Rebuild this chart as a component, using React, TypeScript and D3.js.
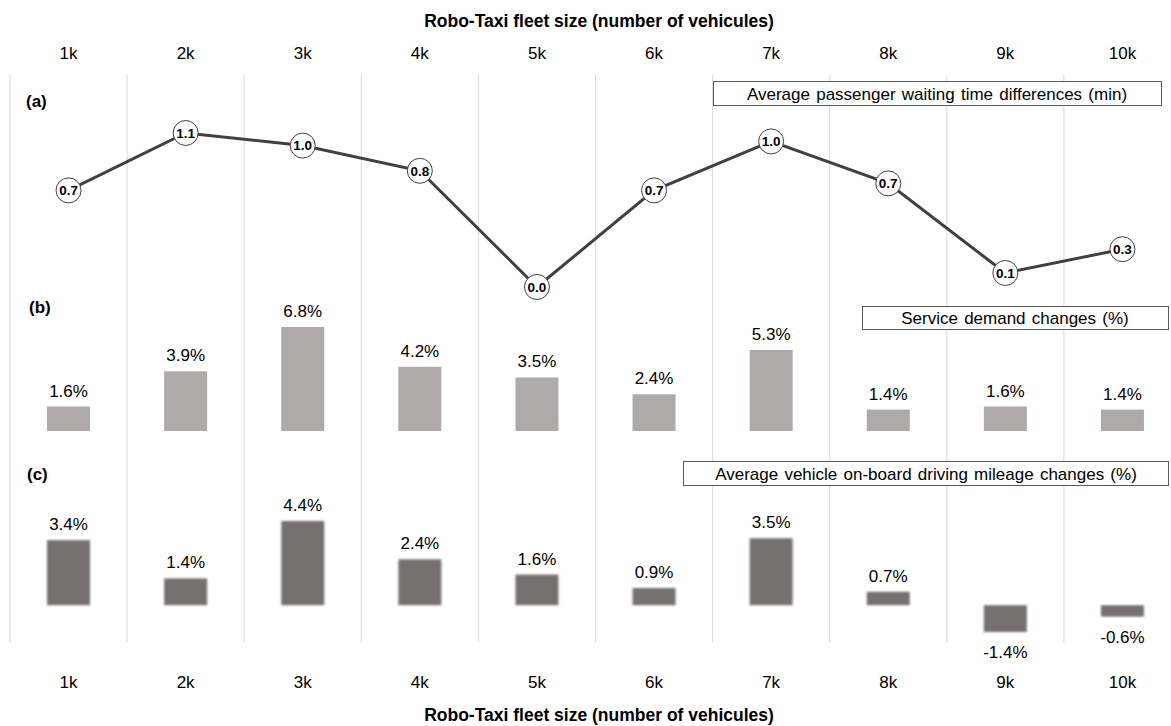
import React, { useEffect } from 'react';
import * as d3 from 'd3';

// fleet size categories (k vehicles)
const fleet = ['1k', '2k', '3k', '4k', '5k', '6k', '7k', '8k', '9k', '10k'];

// (a) average passenger waiting time differences (min)
const waitDiff = [0.69, 1.1, 1.01, 0.83, 0.0, 0.69, 1.04, 0.74, 0.1, 0.27];

// (b) service demand changes (%)
const demandChange = [1.6, 3.9, 6.8, 4.2, 3.5, 2.4, 5.3, 1.4, 1.6, 1.4];

// (c) average vehicle on-board driving mileage changes (%)
const mileageChange = [3.4, 1.4, 4.4, 2.4, 1.6, 0.9, 3.5, 0.7, -1.4, -0.6];

const W = 1171;
const H = 726;
const FONT = '"Liberation Sans", Arial, sans-serif';
const FS = 17;

const App: React.FC = () => {
  useEffect(() => {
    document.body.style.margin = '0';
  }, []);

  const x = d3.scaleBand<string>().domain(fleet).range([10, 1181]);
  const step = x.step();
  const cx = (c: string) => (x(c) as number) + step / 2;
  const barW = 43;

  const yA = d3.scaleLinear().domain([0, 1.1]).range([287, 133]);
  const yB = d3.scaleLinear().domain([0, 6.8]).range([431, 327]);
  const yC = d3.scaleLinear().domain([-1.4, 4.4]).range([632, 521]);

  const line = d3
    .line<number>()
    .x((_, i) => cx(fleet[i]))
    .y((d) => yA(d));

  return (
    <svg width={W} height={H} style={{ display: 'block', fontFamily: FONT }}>
      <defs>
        <filter id="soft" x="-10%" y="-10%" width="120%" height="120%">
          <feGaussianBlur stdDeviation="0.9" />
        </filter>
      </defs>
      <rect width={W} height={H} fill="#fff" />

      {/* vertical grid */}
      {fleet.map((c) => (
        <line key={c} x1={x(c)} x2={x(c)} y1={75} y2={642} stroke="#d9d9d9" strokeWidth={1} />
      ))}

      {/* axis titles and tick labels */}
      <text x={599} y={27} textAnchor="middle" fontSize={17.5} fontWeight="bold" fill="#000">
        Robo-Taxi fleet size (number of vehicules)
      </text>
      <text x={599} y={721} textAnchor="middle" fontSize={17.5} fontWeight="bold" fill="#000">
        Robo-Taxi fleet size (number of vehicules)
      </text>
      {fleet.map((c) => (
        <g key={'t' + c}>
          <text x={cx(c)} y={59} textAnchor="middle" fontSize={FS} fill="#000">{c}</text>
          <text x={cx(c)} y={688} textAnchor="middle" fontSize={FS} fill="#000">{c}</text>
        </g>
      ))}

      {/* panel labels */}
      <text x={26} y={107} fontSize={FS} fontWeight="bold">(a)</text>
      <text x={29} y={313} fontSize={FS} fontWeight="bold">(b)</text>
      <text x={27} y={480} fontSize={FS} fontWeight="bold">(c)</text>

      {/* legend boxes */}
      <rect x={713.5} y={81.5} width={448} height={24} fill="#fff" stroke="#595959" />
      <text x={937} y={99.5} textAnchor="middle" fontSize={FS} wordSpacing={1.5}>
        Average passenger waiting time differences (min)
      </text>
      <rect x={862.5} y={306.5} width={306} height={23} fill="#fff" stroke="#595959" />
      <text x={1015} y={324} textAnchor="middle" fontSize={FS} wordSpacing={1.5}>
        Service demand changes (%)
      </text>
      <rect x={683.5} y={461.5} width={485} height={24} fill="#fff" stroke="#595959" />
      <text x={926} y={479.5} textAnchor="middle" fontSize={FS} wordSpacing={1.5}>
        Average vehicle on-board driving mileage changes (%)
      </text>

      {/* (a) line */}
      <path d={line(waitDiff) ?? ''} fill="none" stroke="#404040" strokeWidth={3} />
      {waitDiff.map((v, i) => (
        <g key={'a' + i} transform={`translate(${cx(fleet[i])},${yA(v)})`}>
          <circle r={12.5} fill="#fff" stroke="#404040" strokeWidth={1} />
          <text y={4.8} textAnchor="middle" fontSize={13.5} fontWeight="bold">{v.toFixed(1)}</text>
        </g>
      ))}

      {/* (b) bars */}
      {demandChange.map((v, i) => (
        <g key={'b' + i}>
          <rect x={cx(fleet[i]) - barW / 2} y={yB(v)} width={barW} height={yB(0) - yB(v)} fill="#aeaaaa" />
          <text x={cx(fleet[i])} y={yB(v) - 10} textAnchor="middle" fontSize={FS}>{v.toFixed(1)}%</text>
        </g>
      ))}

      {/* (c) bars */}
      {mileageChange.map((v, i) => {
        const top = yC(Math.max(0, v));
        const bottom = yC(Math.min(0, v));
        return (
          <g key={'c' + i}>
            <rect x={cx(fleet[i]) - barW / 2} y={top} width={barW} height={bottom - top} fill="#767171" filter="url(#soft)" />
            <text x={cx(fleet[i])} y={v >= 0 ? top - 10 : bottom + 26} textAnchor="middle" fontSize={FS}>
              {v.toFixed(1)}%
            </text>
          </g>
        );
      })}
    </svg>
  );
};

export default App;
